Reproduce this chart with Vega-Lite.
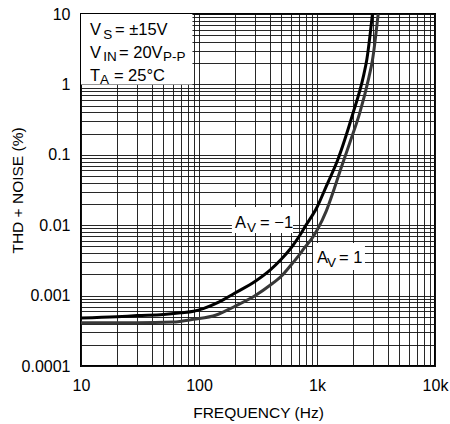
{
  "$schema": "https://vega.github.io/schema/vega-lite/v6.json",
  "width": 354,
  "height": 352,
  "autosize": "none",
  "padding": {"left": 81, "top": 14, "right": 15, "bottom": 58},
  "background": "white",
  "config": {
    "font": "Liberation Sans, Arial, sans-serif",
    "view": {"stroke": "#000000", "strokeWidth": 2},
    "axis": {
      "grid": true, "gridColor": "#111111", "gridWidth": 1, "gridOpacity": 0.9,
      "ticks": false, "domain": false,
      "labelFontSize": 16, "labelColor": "#000000", "labelOverlap": false, "labelFlush": false, "labelBound": false,
      "titleFontSize": 15.5, "titleFontWeight": "normal", "titleColor": "#000000"
    }
  },
  "datasets": {
    "curves": [
      {"f": 10, "v": 0.00048, "gain": "-1"},
      {"f": 20, "v": 0.0005, "gain": "-1"},
      {"f": 30, "v": 0.00052, "gain": "-1"},
      {"f": 50, "v": 0.00054, "gain": "-1"},
      {"f": 70, "v": 0.00057, "gain": "-1"},
      {"f": 90, "v": 0.0006, "gain": "-1"},
      {"f": 110, "v": 0.00066, "gain": "-1"},
      {"f": 150, "v": 0.00082, "gain": "-1"},
      {"f": 200, "v": 0.00108, "gain": "-1"},
      {"f": 300, "v": 0.0016, "gain": "-1"},
      {"f": 400, "v": 0.0023, "gain": "-1"},
      {"f": 500, "v": 0.0033, "gain": "-1"},
      {"f": 600, "v": 0.0047, "gain": "-1"},
      {"f": 700, "v": 0.0068, "gain": "-1"},
      {"f": 800, "v": 0.0098, "gain": "-1"},
      {"f": 1000, "v": 0.018, "gain": "-1"},
      {"f": 1200, "v": 0.036, "gain": "-1"},
      {"f": 1500, "v": 0.085, "gain": "-1"},
      {"f": 2000, "v": 0.37, "gain": "-1"},
      {"f": 2470, "v": 1.29, "gain": "-1"},
      {"f": 2640, "v": 2.22, "gain": "-1"},
      {"f": 2950, "v": 10, "gain": "-1"},
      {"f": 10, "v": 0.00041, "gain": "1"},
      {"f": 30, "v": 0.00041, "gain": "1"},
      {"f": 60, "v": 0.00042, "gain": "1"},
      {"f": 90, "v": 0.00046, "gain": "1"},
      {"f": 140, "v": 0.00053, "gain": "1"},
      {"f": 200, "v": 0.0007, "gain": "1"},
      {"f": 300, "v": 0.001, "gain": "1"},
      {"f": 400, "v": 0.0014, "gain": "1"},
      {"f": 500, "v": 0.0019, "gain": "1"},
      {"f": 600, "v": 0.0027, "gain": "1"},
      {"f": 700, "v": 0.0037, "gain": "1"},
      {"f": 800, "v": 0.005, "gain": "1"},
      {"f": 900, "v": 0.0064, "gain": "1"},
      {"f": 1000, "v": 0.0085, "gain": "1"},
      {"f": 1200, "v": 0.016, "gain": "1"},
      {"f": 1400, "v": 0.033, "gain": "1"},
      {"f": 1600, "v": 0.065, "gain": "1"},
      {"f": 1900, "v": 0.15, "gain": "1"},
      {"f": 2300, "v": 0.39, "gain": "1"},
      {"f": 2750, "v": 1.25, "gain": "1"},
      {"f": 2950, "v": 2.2, "gain": "1"},
      {"f": 3300, "v": 10, "gain": "1"}
    ],
    "boxes": [
      {"f": 10, "f2": 88, "v": 1, "v2": 10},
      {"f": 190, "f2": 626, "v": 0.00775, "v2": 0.0181},
      {"f": 925, "f2": 2550, "v": 0.00231, "v2": 0.00559}
    ],
    "main": [
      {"text": "V", "f": 11.9, "v": 4.98},
      {"text": "= ±15V", "f": 19.4, "v": 4.98},
      {"text": "V", "f": 11.9, "v": 2.37},
      {"text": "= 20V", "f": 21.0, "v": 2.37},
      {"text": "T", "f": 11.9, "v": 1.118},
      {"text": "= 25°C", "f": 19.0, "v": 1.118},
      {"text": "A", "f": 201.8, "v": 0.00912},
      {"text": "= −1", "f": 329, "v": 0.00912},
      {"text": "A", "f": 1000, "v": 0.0029},
      {"text": "= 1", "f": 1535, "v": 0.0029}
    ],
    "subs": [
      {"text": "S", "f": 15.4, "v": 4.42},
      {"text": "IN", "f": 15.4, "v": 2.15},
      {"text": "P-P", "f": 49.5, "v": 2.15},
      {"text": "A", "f": 14.5, "v": 1.014},
      {"text": "V", "f": 255, "v": 0.008},
      {"text": "V", "f": 1215, "v": 0.00255}
    ]
  },
  "encoding": {
    "x": {
      "field": "f", "type": "quantitative",
      "scale": {"type": "log", "domain": [10, 10000]},
      "axis": {
        "title": "FREQUENCY (Hz)",
        "values": [10,20,30,40,50,60,70,80,90,100,200,300,400,500,600,700,800,900,1000,2000,3000,4000,5000,6000,7000,8000,9000,10000],
        "labelExpr": "datum.value == 10 ? '10' : datum.value == 100 ? '100' : datum.value == 1000 ? '1k' : datum.value == 10000 ? '10k' : ''",
        "labelPadding": 11,
        "titleX": 177, "titleY": 51, "titleBaseline": "alphabetic", "titleAlign": "center"
      }
    },
    "y": {
      "field": "v", "type": "quantitative",
      "scale": {"type": "log", "domain": [0.0001, 10]},
      "axis": {
        "title": "THD + NOISE (%)",
        "values": [0.0001,0.0002,0.0003,0.0004,0.0005,0.0006,0.0007,0.0008,0.0009,0.001,0.002,0.003,0.004,0.005,0.006,0.007,0.008,0.009,0.01,0.02,0.03,0.04,0.05,0.06,0.07,0.08,0.09,0.1,0.2,0.3,0.4,0.5,0.6,0.7,0.8,0.9,1,2,3,4,5,6,7,8,9,10],
        "labelExpr": "datum.value == 0.0001 ? '0.0001' : datum.value == 0.001 ? '0.001' : datum.value == 0.01 ? '0.01' : datum.value == 0.1 ? '0.1' : datum.value == 1 ? '1' : datum.value == 10 ? '10' : ''",
        "labelPadding": 11,
        "titleX": -64, "titleY": 176, "titleAngle": 270, "titleBaseline": "middle", "titleAlign": "center"
      }
    }
  },
  "layer": [
    {
      "data": {"name": "boxes"},
      "mark": {"type": "rect", "color": "white", "opacity": 1},
      "encoding": {"x2": {"field": "f2"}, "y2": {"field": "v2"}}
    },
    {
      "data": {"name": "curves"},
      "mark": {"type": "line", "interpolate": "monotone", "strokeWidth": 3, "clip": true},
      "encoding": {
        "color": {"field": "gain", "type": "nominal", "scale": {"domain": ["-1", "1"], "range": ["#000000", "#383838"]}, "legend": null}
      }
    },
    {
      "data": {"name": "main"},
      "mark": {"type": "text", "align": "left", "baseline": "alphabetic", "fontSize": 16.5, "color": "#000000"},
      "encoding": {"text": {"field": "text"}}
    },
    {
      "data": {"name": "subs"},
      "mark": {"type": "text", "align": "left", "baseline": "alphabetic", "fontSize": 13.5, "color": "#000000"},
      "encoding": {"text": {"field": "text"}}
    }
  ]
}
